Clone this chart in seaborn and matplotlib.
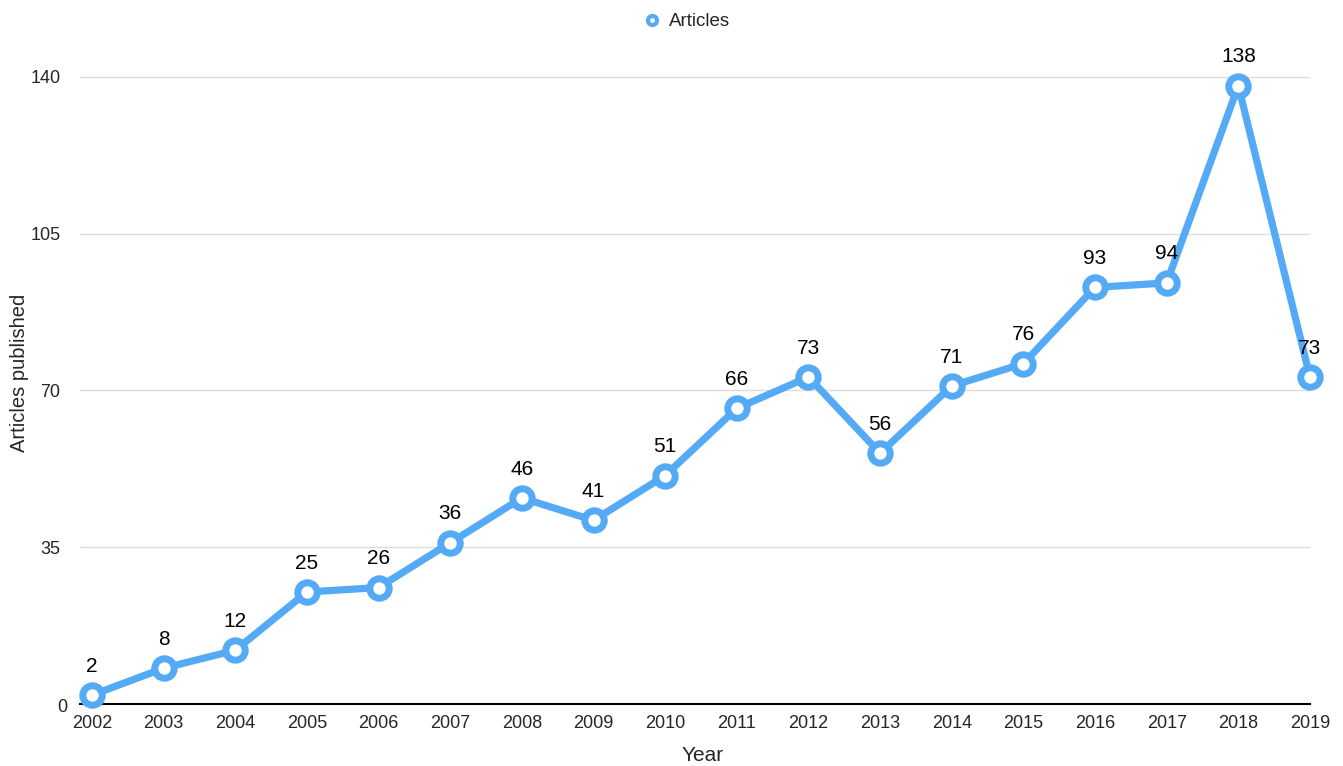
import seaborn as sns
import matplotlib.pyplot as plt
from matplotlib.lines import Line2D
from matplotlib.transforms import ScaledTranslation

years = list(range(2002, 2020))
articles = [2, 8, 12, 25, 26, 36, 46, 41, 51, 66, 73, 56, 71, 76, 93, 94, 138, 73]
y_ticks = [0, 35, 70, 105, 140]

blue = '#55aaf6'

sns.set_style('white')
plt.rcParams['font.family'] = ['Liberation Sans', 'DejaVu Sans']

fig = plt.figure(figsize=(13.43, 7.66), dpi=100)
ax = fig.add_axes([0.0596, 0.0809, 0.9158, 0.8656])

ax = sns.lineplot(x=years, y=articles, ax=ax, color=blue, linewidth=5.2,
                  marker='o', markersize=14, markerfacecolor='white',
                  markeredgecolor=blue, markeredgewidth=5, clip_on=False, zorder=3)

for x, y in zip(years, articles):
    ax.annotate(str(y), (x, y), xytext=(0, 14), textcoords='offset points',
                ha='center', va='bottom', fontsize=15, color='black')

ax.set_xlim(2002 - 0.167, 2019)
ax.set_ylim(0, 148)
ax.set_yticks(y_ticks)
ax.set_xticks(years)
ax.yaxis.grid(True, color='#dcdcdc', linewidth=1)
ax.set_axisbelow(True)
for s in ['top', 'right', 'left']:
    ax.spines[s].set_visible(False)
ax.spines['bottom'].set_color('black')
ax.spines['bottom'].set_linewidth(1.5)
ax.tick_params(axis='both', length=0, labelsize=13)
ax.tick_params(axis='x', pad=8)
ax.tick_params(axis='y', pad=14)
ax.set_xlabel('Year', fontsize=15)
ax.set_ylabel('Articles published', fontsize=14.5)
ax.xaxis.set_label_coords(0.506, -0.077)
ax.yaxis.set_label_coords(-0.049, 0.5)
ax.xaxis.label.set_va('center')
ax.yaxis.label.set_va('center')

# the "0" label sits nearer the axis corner in the reference
zero_lbl = ax.get_yticklabels()[0]
zero_lbl.set_transform(zero_lbl.get_transform() + ScaledTranslation(0.07, -0.01, fig.dpi_scale_trans))

handle = Line2D([], [], linestyle='none', marker='o', markersize=6.5,
                markerfacecolor='white', markeredgecolor=blue, markeredgewidth=3)
fig.legend([handle], ['Articles'], loc='upper center', bbox_to_anchor=(0.511, 1.005),
           frameon=False, fontsize=13.5, handlelength=1.0, handletextpad=0.4)

fig.savefig('out.png', dpi=100)
